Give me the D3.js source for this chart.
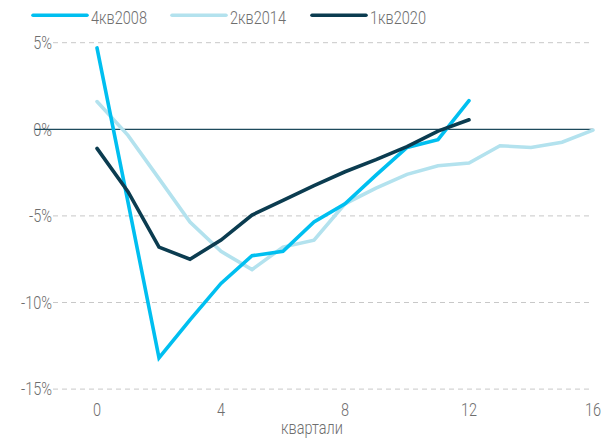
<!DOCTYPE html>
<html>
<head>
<meta charset="utf-8">
<script src="https://cdn.jsdelivr.net/npm/d3@7"></script>
<style>
  html, body { margin: 0; padding: 0; background: #fff; }
  svg { display: block; }
  text { font-family: "Roboto", "Liberation Sans Narrow", sans-serif; font-weight: 300; }
</style>
</head>
<body>
<div id="chart"></div>
<script>
// ---- data ----
const seriesNames = ["4кв2008", "2кв2014", "1кв2020"];
const s2008 = [4.7, -4.2, -13.2, -11.0, -8.9, -7.3, -7.05, -5.35, -4.3, -2.65, -1.05, -0.6, 1.65];
const s2014 = [1.6, -0.35, -2.85, -5.35, -7.05, -8.1, -6.8, -6.4, -4.3, -3.4, -2.6, -2.1, -1.95, -0.95, -1.05, -0.75, -0.05];
const s2020 = [-1.1, -3.6, -6.8, -7.5, -6.4, -4.95, -4.1, -3.25, -2.45, -1.75, -1.0, -0.1, 0.55];
const xTicks = [0, 4, 8, 12, 16];
const yTicks = [5, 0, -5, -10, -15];
const xTitle = "квартали";
const colors = ["#00bff0", "#b3e2ee", "#0b3c50"];

const W = 612, H = 440;
const FS = 17.5, SX = 0.83, TXT = "#6e6e6e";
const svg = d3.select("#chart").append("svg").attr("width", W).attr("height", H);

const x = d3.scaleLinear().domain([0, 16]).range([97, 593]);
const y = d3.scaleLinear().domain([-15, 5]).range([389.1, 42.7]);
const gridLeft = 53, zeroLeft = 35;

function label(g, px, py, anchor, str) {
  return g.append("text")
    .attr("transform", `translate(${px},${py}) scale(${SX},1)`)
    .attr("text-anchor", anchor).attr("font-size", FS).attr("fill", TXT)
    .text(str);
}

// gridlines
svg.append("g").selectAll("line").data(yTicks.filter(d => d !== 0)).join("line")
  .attr("x1", gridLeft).attr("x2", x(16))
  .attr("y1", d => y(d)).attr("y2", d => y(d))
  .attr("stroke", "#c8c8c8").attr("stroke-width", 1).attr("stroke-dasharray", "5,4");

// y tick labels
const gy = svg.append("g");
yTicks.forEach(d => label(gy, 52, y(d) + 6.3, "end", d + "%"));

// zero line
svg.append("line")
  .attr("x1", zeroLeft).attr("x2", x(16))
  .attr("y1", y(0)).attr("y2", y(0))
  .attr("stroke", "#1d4a5c").attr("stroke-width", 1.2);

// x tick labels
const gx = svg.append("g");
xTicks.forEach(d => label(gx, x(d), 415.5, "middle", String(d)));
label(svg, 312, 434, "middle", xTitle);

// lines
const line = d3.line().x((d, i) => x(i)).y(d => y(d));
const allSeries = [s2008, s2014, s2020];
const drawOrder = [1, 0, 2];
drawOrder.forEach(k => {
  svg.append("path").datum(allSeries[k])
    .attr("d", line).attr("fill", "none")
    .attr("stroke", colors[k]).attr("stroke-width", 3.6)
    .attr("stroke-linejoin", "miter").attr("stroke-linecap", "round");
});

// legend
const legX = [33, 172, 312];
const leg = svg.append("g");
seriesNames.forEach((n, k) => {
  leg.append("line").attr("x1", legX[k]).attr("x2", legX[k] + 54)
    .attr("y1", 15.3).attr("y2", 15.3)
    .attr("stroke", colors[k]).attr("stroke-width", 3.6).attr("stroke-linecap", "round");
  label(leg, legX[k] + 58, 24, "start", n);
});
</script>
</body>
</html>
